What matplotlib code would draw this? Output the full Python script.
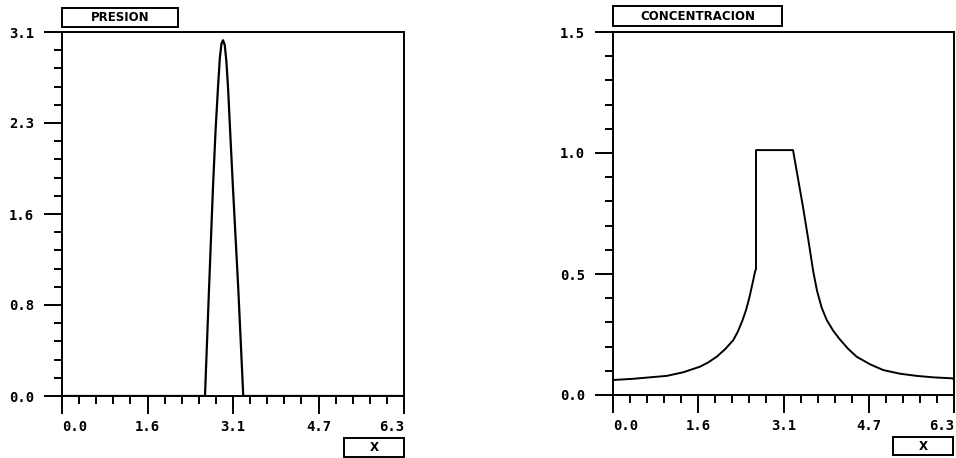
import numpy as np
import matplotlib
matplotlib.use("Agg")
import matplotlib.pyplot as plt
from matplotlib.patches import Rectangle
from matplotlib.ticker import FixedLocator, MultipleLocator

# Presion (panel izquierdo)
pres_x = [0.0, 2.60, 2.627, 2.70, 2.774, 2.82, 2.866, 2.90, 2.93, 2.958,
          2.99, 3.02, 3.05, 3.095, 3.14, 3.24, 3.33, 6.283]
pres_y = [0.0, 0.0, 0.0, 0.9, 1.78, 2.25, 2.63, 2.88, 3.0, 3.03,
          2.99, 2.85, 2.63, 2.2, 1.78, 0.9, 0.0, 0.0]

# Concentracion (panel derecho)
conc_x = [0.0, 0.374, 0.68, 0.99, 1.295, 1.603, 1.757, 1.91, 2.064, 2.217,
          2.30, 2.38, 2.45, 2.51, 2.57, 2.617, 2.635, 2.635, 3.317, 3.501,
          3.60, 3.69, 3.76, 3.846, 3.938, 4.059, 4.183, 4.336, 4.49,
          4.735, 4.98, 5.288, 5.596, 5.90, 6.24, 6.283]
conc_y = [0.062, 0.067, 0.073, 0.079, 0.094, 0.117, 0.135, 0.158, 0.189, 0.227,
          0.262, 0.305, 0.35, 0.40, 0.46, 0.51, 0.52, 1.012, 1.012, 0.777,
          0.64, 0.51, 0.43, 0.36, 0.31, 0.265, 0.229, 0.190, 0.158,
          0.127, 0.103, 0.088, 0.079, 0.073, 0.069, 0.066]

x_ticks = [0.0, np.pi / 2, np.pi, 3 * np.pi / 2, 2 * np.pi]
x_labels = ["0.0", "1.6", "3.1", "4.7", "6.3"]
pres_yticks = [0.0, 0.775, 1.55, 2.325, 3.1]
pres_ylabels = ["0.0", "0.8", "1.6", "2.3", "3.1"]
conc_yticks = [0.0, 0.5, 1.0, 1.5]
conc_ylabels = ["0.0", "0.5", "1.0", "1.5"]

W, H = 956, 458
fig = plt.figure(figsize=(W / 100, H / 100), dpi=100)

tick_font = dict(family="DejaVu Sans Mono", weight="bold", size=10)


def px_axes(l, t, r, b):
    return fig.add_axes([l / W, 1 - b / H, (r - l) / W, (b - t) / H])


def style(ax, yticks, ylabels, ymax, yminor):
    ax.set_xlim(0, 2 * np.pi)
    ax.set_ylim(0, ymax)
    ax.xaxis.set_major_locator(FixedLocator(x_ticks))
    ax.xaxis.set_minor_locator(MultipleLocator(np.pi / 10))
    ax.yaxis.set_major_locator(FixedLocator(yticks))
    ax.yaxis.set_minor_locator(MultipleLocator(yminor))
    ax.set_xticklabels(x_labels, **tick_font)
    ax.set_yticklabels(ylabels, **tick_font)
    ax.tick_params(which="major", direction="out", length=13, width=1.4,
                   pad=4, color="black")
    ax.tick_params(which="minor", direction="out", length=6, width=1.4,
                   color="black")
    ax.tick_params(axis="y", which="major", pad=7)
    for s in ax.spines.values():
        s.set_linewidth(1.4)
    labs = ax.get_xticklabels()
    labs[0].set_ha("left")
    labs[-1].set_ha("right")


def box(l, t, r, b, text):
    fig.patches.append(Rectangle((l / W, 1 - b / H), (r - l) / W, (b - t) / H,
                                 transform=fig.transFigure, fill=False,
                                 edgecolor="black", linewidth=1.4))
    fig.text((l + r) / 2 / W, 1 - (t + b) / 2 / H, text, ha="center",
             va="center", family="DejaVu Sans", weight="bold", size=8.5)


ax1 = px_axes(62, 32, 404, 396)
ax1.plot(pres_x, pres_y, color="black", linewidth=1.6)
style(ax1, pres_yticks, pres_ylabels, 3.1, 3.1 / 20)

ax2 = px_axes(613, 32, 954, 395)
ax2.plot(conc_x, conc_y, color="black", linewidth=1.4)
style(ax2, conc_yticks, conc_ylabels, 1.5, 0.1)

box(62, 8, 178, 27, "PRESION")
box(613, 6, 782, 26, "CONCENTRACION")
box(344, 438, 404, 457, "X")
box(893, 437, 953, 455, "X")

fig.savefig("out.png", dpi=100)
